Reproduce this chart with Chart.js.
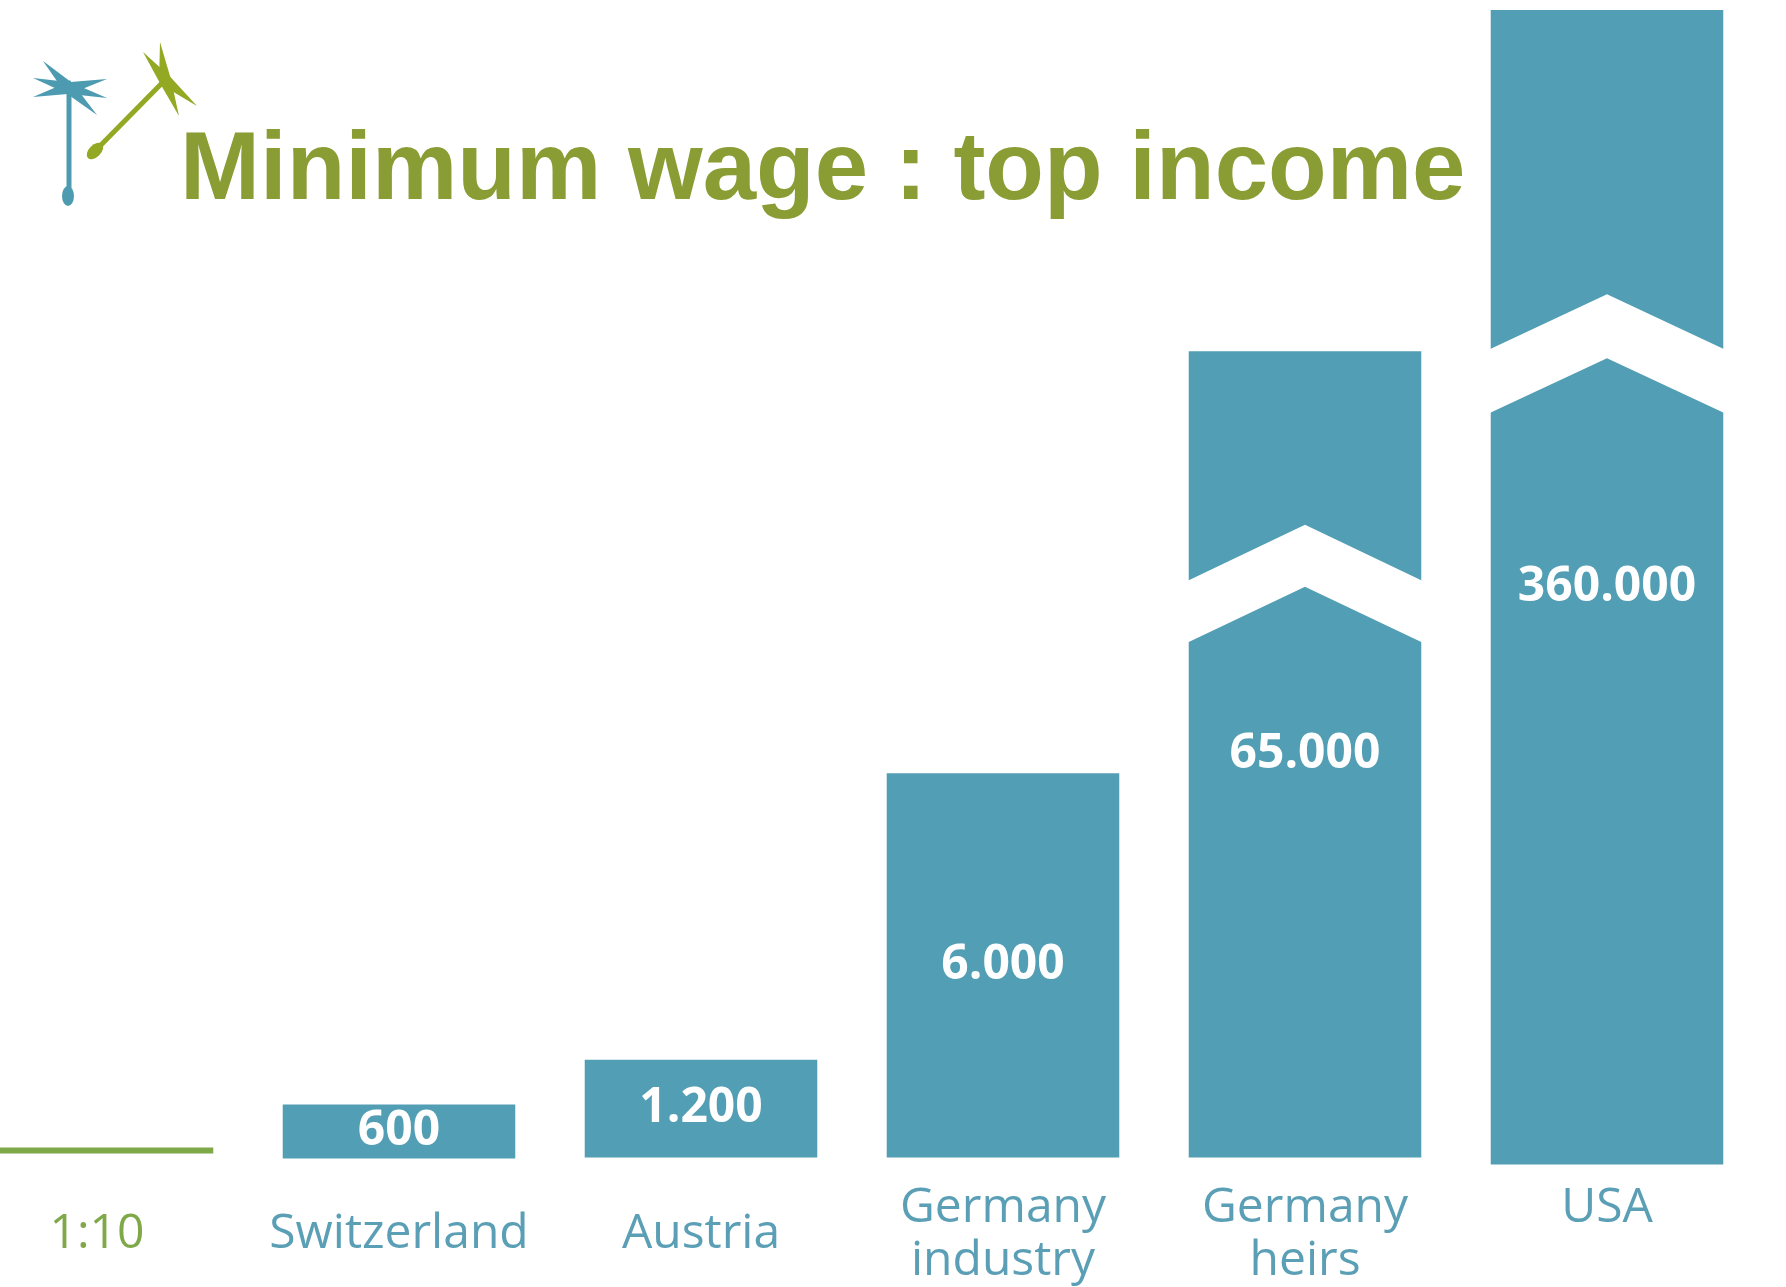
<!DOCTYPE html>
<html>
<head>
<meta charset="utf-8">
<script src="https://cdn.jsdelivr.net/npm/chart.js@4/dist/chart.umd.min.js"></script>
<style>
html,body{margin:0;padding:0;background:#fff;overflow:hidden}
#wrap{position:relative;width:1786px;height:1287px;overflow:hidden}
#chart{position:absolute;top:0}
#title{position:absolute;left:180px;top:118px;font:bold 96px "Liberation Sans",Arial,sans-serif;line-height:1;color:#8a9c34;white-space:nowrap}
</style>
</head>
<body>
<div id="wrap">
<canvas id="chart" width="1840" height="1287"></canvas>
<div id="title">Minimum wage : top income</div>
</div>
<script>
// categories along the bottom
const categories = [["1:10"], ["Switzerland"], ["Austria"], ["Germany", "industry"], ["Germany", "heirs"], ["USA", ""]];
// numbers printed inside the bars
const valueLabels = ["", "600", "1.200", "6.000", "65.000", "360.000"];
// drawn bar extents (the picture uses a broken scale, so these are the drawn heights)
const barBase = [4, -1, 0, 0, 0, -7];
const barTop = [10, 53, 98, 385, 808, 1150];
// white "break" chevrons, in the same drawn units: low edge, high edge, rise at the middle
const breakLow = [null, null, null, null, 516, 746];
const breakHigh = [null, null, null, null, 578, 810];
const breakRise = [0, 0, 0, 0, 56, 55];

const SHIFT = 54;
const TEAL = "#529eb4";
const GREEN = "#7fa848";

document.getElementById("chart").style.left = (-SHIFT) + "px";

function spike(ctx, cx, cy, tx, ty, w){
let dx = tx-cx, dy = ty-cy, len = Math.hypot(dx,dy);
let nx = -dy/len*w, ny = dx/len*w;
ctx.beginPath();
ctx.moveTo(cx+nx, cy+ny);
ctx.lineTo(tx, ty);
ctx.lineTo(cx-nx, cy-ny);
ctx.closePath();
ctx.fill();
}

function drawLogo(ctx){
ctx.save();
ctx.translate(SHIFT, 0);
// teal seed
ctx.fillStyle = "#4c9bb0";
ctx.strokeStyle = "#4c9bb0";
ctx.lineWidth = 5;
ctx.beginPath(); ctx.moveTo(69, 88); ctx.lineTo(69, 188); ctx.stroke();
ctx.beginPath(); ctx.ellipse(68, 196, 6, 10, 0, 0, Math.PI*2); ctx.fill();
[[43,61],[33,78],[33,97],[107,79],[107,98],[97,115],[70,80]].forEach(p=>spike(ctx, 69, 88, p[0], p[1], 6));
// green seed
ctx.fillStyle = "#93a823";
ctx.strokeStyle = "#93a823";
ctx.beginPath(); ctx.moveTo(98, 148); ctx.lineTo(165, 80); ctx.stroke();
ctx.beginPath(); ctx.ellipse(95, 151, 10, 6, -Math.PI/4, 0, Math.PI*2); ctx.fill();
[[160,42],[143,52],[197,106],[179,116]].forEach(p=>spike(ctx, 165, 80, p[0], p[1], 6));
ctx.restore();
}

const decor = {
id: "decor",
afterDatasetsDraw(chart){
const ctx = chart.ctx, y = chart.scales.y;
const bars = chart.getDatasetMeta(0).data;
bars.forEach((b, i)=>{
if(breakLow[i] != null){
let l = b.x-b.width/2-1, r = b.x+b.width/2+1;
let lo = y.getPixelForValue(breakLow[i]), hi = y.getPixelForValue(breakHigh[i]);
let rise = y.getPixelForValue(0)-y.getPixelForValue(breakRise[i]);
ctx.fillStyle = "#fff";
ctx.beginPath();
ctx.moveTo(l, hi); ctx.lineTo(b.x, hi-rise); ctx.lineTo(r, hi);
ctx.lineTo(r, lo); ctx.lineTo(b.x, lo-rise); ctx.lineTo(l, lo);
ctx.closePath(); ctx.fill();
}
if(valueLabels[i]){
ctx.fillStyle = "#fff";
ctx.font = "bold 48px 'Open Sans'";
ctx.textAlign = "center";
ctx.textBaseline = "middle";
ctx.fillText(valueLabels[i], b.x, (b.y+b.base)/2);
}
});
drawLogo(ctx);
}
};

new Chart(document.getElementById("chart"), {
type: "bar",
data: {
labels: categories,
datasets: [{
data: barTop.map((t, i)=>[barBase[i], t]),
backgroundColor: categories.map((c, i)=>i===0 ? GREEN : TEAL),
borderWidth: 0,
borderSkipped: false,
barPercentage: 0.77,
categoryPercentage: 1
}]
},
options: {
responsive: false,
animation: false,
devicePixelRatio: 1,
layout: {padding: {left: 0, right: 28, top: 0, bottom: -68}},
plugins: {legend: {display: false}, tooltip: {enabled: false}},
scales: {
x: {
grid: {display: false, drawTicks: false},
border: {display: false},
ticks: {
color: c=>c.index===0 ? GREEN : "#5a9fb5",
font: {family: "'Open Sans'", size: 48, lineHeight: 1.1},
padding: 41,
crossAlign: "center",
maxRotation: 0,
autoSkip: false
}
},
y: {display: false, min: -10, max: 1160}
}
},
plugins: [decor]
});
</script>
</body>
</html>
